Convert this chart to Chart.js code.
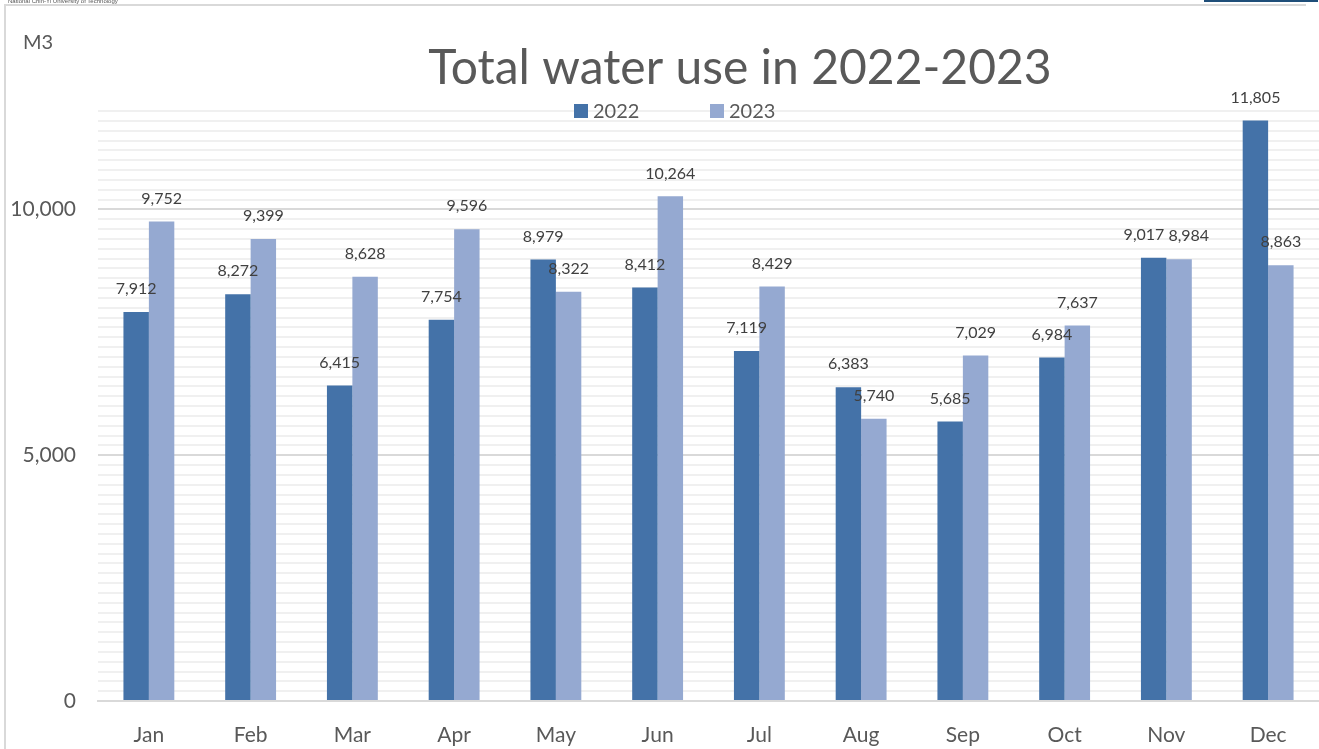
<!DOCTYPE html>
<html>
<head>
<meta charset="utf-8">
<script src="https://cdn.jsdelivr.net/npm/chart.js@4.4.0/dist/chart.umd.min.js"></script>
<style>
  html, body { margin: 0; padding: 0; background: #fff; overflow: hidden; }
  #wrap { position: relative; width: 1319px; height: 749px; }
  #topline { position: absolute; left: 4px; top: 4px; width: 1302px; height: 2px; background: #d9d9d9; }
  #leftline { position: absolute; left: 4px; top: 4px; width: 2px; height: 745px; background: #d9d9d9; }
  #uni { position: absolute; left: 8px; top: -2px; font: 6px "Liberation Sans", sans-serif; color: #555; }
  #bluebar { position: absolute; left: 1204px; top: 0; width: 114px; height: 2px; background: #1f4e79; }
  canvas { position: absolute; left: 0; top: 0; }
</style>
</head>
<body>
<div id="wrap">
  <canvas id="waterChart" width="1319" height="749"></canvas>
  <div id="topline"></div>
  <div id="leftline"></div>
  <div id="uni">National Chin-Yi University of Technology</div>
  <div id="bluebar"></div>
</div>
<script>
const months = ["Jan", "Feb", "Mar", "Apr", "May", "Jun", "Jul", "Aug", "Sep", "Oct", "Nov", "Dec"];
const use2022 = [7912, 8272, 6415, 7754, 8979, 8412, 7119, 6383, 5685, 6984, 9017, 11805];
const use2023 = [9752, 9399, 8628, 9596, 8322, 10264, 8429, 5740, 7029, 7637, 8984, 8863];

const FONT = "Lato, 'Open Sans', sans-serif";

// title, legend, unit text and value labels drawn on the canvas
const decorations = {
    id: "decorations",
    afterDatasetsDraw(chart) {
        const ctx = chart.ctx;
        ctx.save();

        // title
        ctx.font = "48px " + FONT;
        ctx.fillStyle = "#595959";
        ctx.textAlign = "center";
        ctx.textBaseline = "alphabetic";
        ctx.fillText("Total water use in 2022-2023", 740, 84);

        // legend
        ctx.font = "20px " + FONT;
        ctx.textAlign = "left";
        ctx.textBaseline = "middle";
        const legendX = [574, 710];
        chart.data.datasets.forEach((ds, i) => {
            ctx.fillStyle = ds.backgroundColor;
            ctx.fillRect(legendX[i], 104, 14, 14);
            ctx.fillStyle = "#595959";
            ctx.fillText(ds.label, legendX[i] + 19, 112);
        });

        // unit
        ctx.fillText("M3", 23, 43);

        // value labels, pushed apart when two in one month collide
        ctx.font = "16px " + FONT;
        ctx.fillStyle = "#404040";
        ctx.textAlign = "center";
        const m0 = chart.getDatasetMeta(0).data;
        const m1 = chart.getDatasetMeta(1).data;
        months.forEach((m, j) => {
            const t0 = use2022[j].toLocaleString("en-US");
            const t1 = use2023[j].toLocaleString("en-US");
            let x0 = m0[j].x, x1 = m1[j].x;
            const y0 = m0[j].y - 23, y1 = m1[j].y - 23;
            const w0 = ctx.measureText(t0).width, w1 = ctx.measureText(t1).width;
            const overlap = (x0 + w0 / 2 + 4) - (x1 - w1 / 2);
            if (Math.abs(y0 - y1) < 18 && overlap > 0) {
                x0 -= overlap / 2;
                x1 += overlap / 2;
            }
            ctx.fillText(t0, x0, y0);
            ctx.fillText(t1, x1, y1);
        });
        ctx.restore();
    }
};

let waterCtx = document.getElementById("waterChart").getContext("2d");
let waterChart = new Chart(waterCtx, {
    type: "bar",
    data: {
        labels: months,
        datasets: [{
            label: "2022",
            data: use2022,
            backgroundColor: "#4472a8"
        }, {
            label: "2023",
            data: use2023,
            backgroundColor: "#95a9d1"
        }]
    },
    options: {
        responsive: false,
        animation: false,
        layout: {
            padding: { left: 0, right: -2, top: 111, bottom: 0 }
        },
        datasets: {
            bar: { barPercentage: 1, categoryPercentage: 0.5 }
        },
        plugins: {
            title: { display: false },
            legend: { display: false },
            tooltip: { enabled: false }
        },
        scales: {
            x: {
                grid: { display: false },
                border: { color: "#d9d9d9", width: 2 },
                ticks: {
                    color: "#595959",
                    font: { family: FONT, size: 21 },
                    padding: 14
                },
                afterFit: (scale) => { scale.height = 48; }
            },
            y: {
                min: 0,
                max: 12000,
                border: { display: false },
                grid: {
                    color: (c) => (c.tick && c.tick.value % 5000 === 0) ? "#d9d9d9" : "#f0f0f0",
                    lineWidth: 2,
                    drawTicks: false
                },
                ticks: {
                    stepSize: 200,
                    autoSkip: false,
                    color: "#595959",
                    font: { family: FONT, size: 21 },
                    padding: 22,
                    callback: (v) => v % 5000 === 0 ? v.toLocaleString("en-US") : ""
                },
                afterFit: (scale) => { scale.width = 98; }
            }
        }
    },
    plugins: [decorations]
});
</script>
</body>
</html>
